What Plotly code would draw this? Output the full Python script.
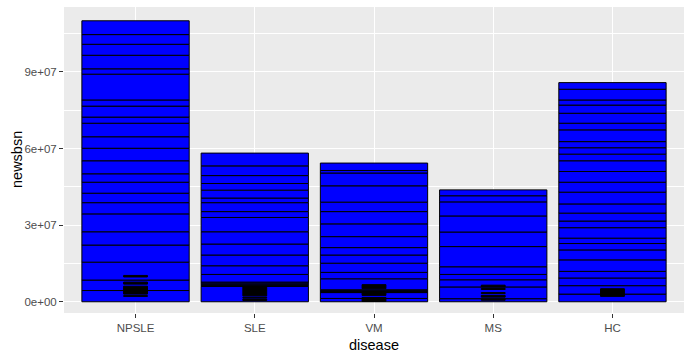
import plotly.graph_objects as go

categories = ["NPSLE", "SLE", "VM", "MS", "HC"]

# segment heights (in millions), bottom to top, for each disease
npsle_segments = [4.4, 4.1, 7.0, 6.7, 5.2, 7.0, 4.4, 3.7, 4.3, 3.3, 5.1, 4.9, 4.5,
                  5.3, 2.4, 4.3, 2.4, 10.1, 2.1, 5.3, 4.3, 3.8, 5.4]
sle_segments = [6.0, 0.43, 0.42, 0.43, 0.42, 3.0, 3.4, 4.2, 4.3, 4.8, 5.6, 2.3, 3.5,
                1.8, 3.1, 2.6, 3.1, 3.8, 5.0]
vm_segments = [1.3, 2.3, 0.37, 0.37, 0.36, 4.3, 2.5, 3.6, 3.2, 2.9, 4.3, 5.0, 4.8,
               3.7, 6.4, 5.0, 1.0, 2.9]
ms_segments = [1.2, 4.6, 2.8, 2.1, 3.0, 7.9, 5.7, 6.3, 5.5, 2.4, 2.3]
hc_segments = [3.0, 3.3, 3.0, 2.6, 4.5, 3.9, 2.5, 2.1, 4.1, 2.6, 3.1, 3.6, 4.6, 3.9,
               4.2, 4.2, 2.6, 2.5, 2.4, 4.6, 2.6, 3.9, 3.2, 2.0, 4.2, 2.6]

# narrow overlay blocks: (base, top) in millions
npsle_overlay = [(2.1, 2.4), (3.0, 6.1), (6.9, 7.7), (9.7, 10.3)]
sle_overlay = [(0.5, 1.1), (1.5, 1.8), (2.3, 6.0)]
vm_overlay = [(0.1, 1.7), (2.5, 4.0), (5.1, 6.7)]
ms_overlay = [(0.6, 1.0), (1.8, 2.5), (3.2, 3.6), (4.8, 5.2), (5.8, 6.5)]
hc_overlay = [(2.1, 5.1)]

y_tick_vals = [0, 3e7, 6e7, 9e7]
y_tick_text = ["0e+00", "3e+07", "6e+07", "9e+07"]

SCALE = 1e6
main_data = [npsle_segments, sle_segments, vm_segments, ms_segments, hc_segments]
overlay_data = [npsle_overlay, sle_overlay, vm_overlay, ms_overlay, hc_overlay]

mx, mbase, my = [], [], []
for cat, segs in zip(categories, main_data):
    cum = 0.0
    for h in segs:
        mx.append(cat)
        mbase.append(cum * SCALE)
        my.append(h * SCALE)
        cum += h

ox, obase, oy = [], [], []
for cat, blocks in zip(categories, overlay_data):
    for b, t in blocks:
        ox.append(cat)
        obase.append(b * SCALE)
        oy.append((t - b) * SCALE)

fig = go.Figure()
fig.add_trace(go.Bar(
    x=mx, y=my, base=mbase, width=0.9,
    marker=dict(color="#0000FF", line=dict(color="black", width=1)),
    showlegend=False, hoverinfo="skip",
))
fig.add_trace(go.Bar(
    x=ox, y=oy, base=obase, width=0.2,
    marker=dict(color="black", line=dict(color="black", width=1)),
    showlegend=False, hoverinfo="skip",
))

font_family = "Liberation Sans, Arial, sans-serif"
fig.update_layout(
    barmode="overlay",
    width=690, height=356,
    margin=dict(l=64, r=6, t=7, b=43, autoexpand=False),
    paper_bgcolor="white",
    plot_bgcolor="#EBEBEB",
    font=dict(family=font_family, color="black"),
    xaxis=dict(
        type="category",
        categoryorder="array", categoryarray=categories,
        range=[-0.6, 4.6],
        automargin=False,
        showgrid=True, gridcolor="white", gridwidth=1,
        ticks="outside", ticklen=4, tickcolor="#333333", tickwidth=1,
        tickfont=dict(size=11.5, color="#4D4D4D", family=font_family),
        zeroline=False, showline=False,
    ),
    yaxis=dict(
        range=[-4.4e6, 115.4e6],
        automargin=False,
        tickvals=y_tick_vals, ticktext=y_tick_text,
        showgrid=True, gridcolor="white", gridwidth=1,
        minor=dict(tickvals=[1.5e7, 4.5e7, 7.5e7, 1.05e8], showgrid=True,
                   gridcolor="white", gridwidth=0.5, ticks=""),
        ticks="outside", ticklen=4, tickcolor="#333333", tickwidth=1,
        tickfont=dict(size=11.5, color="#4D4D4D", family=font_family),
        zeroline=False, showline=False,
    ),
    annotations=[
        dict(text="disease", xref="paper", yref="paper", x=0.5, y=0,
             yshift=-32, xanchor="center", yanchor="middle", showarrow=False,
             font=dict(size=14.5, color="black", family=font_family)),
        dict(text="newsbsn", xref="paper", yref="paper", x=0, y=0.5,
             xshift=-47, xanchor="center", yanchor="middle", showarrow=False,
             textangle=-90,
             font=dict(size=14.5, color="black", family=font_family)),
    ],
)

fig.write_html(
    "out.html",
    config={"displayModeBar": False},
    post_script="document.body.style.margin='0';document.body.style.overflow='hidden';",
)
